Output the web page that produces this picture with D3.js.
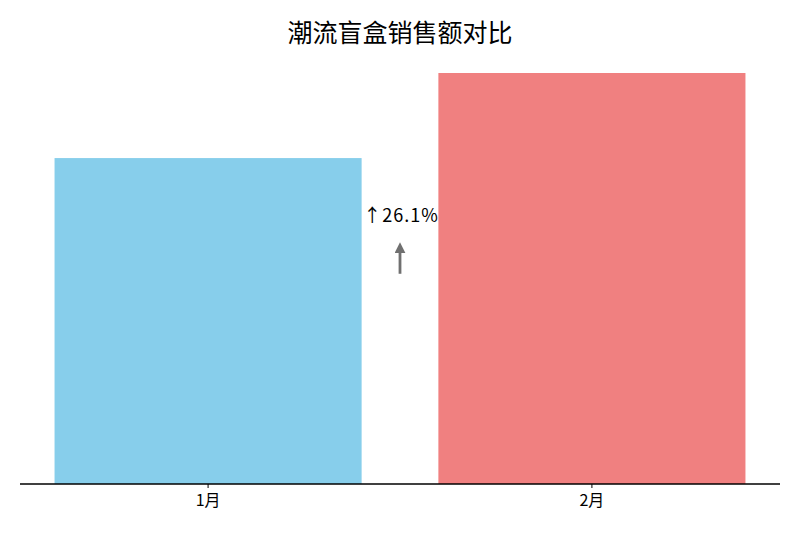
<!DOCTYPE html>
<html>
<head>
<meta charset="utf-8">
<script src="https://cdn.jsdelivr.net/npm/d3@7"></script>
<style>
  body { margin: 0; background: #fff; }
  text { font-family: "Noto Sans CJK SC", "DejaVu Sans", sans-serif; }
</style>
</head>
<body>
<svg id="chart" width="800" height="534"></svg>
<script>
const TITLE = '潮流盲盒销售额对比';
const months = ['1月', '2月'];
const sales = [100, 126.1];
const colors = ['#87CEEB', '#F08080'];

const WIDTH = 800;
const HEIGHT = 534;
const LEFT = 20;
const RIGHT = 780;
const BASE = 484;

let growth = (sales[1] - sales[0]) / sales[0] * 100;

let svg = d3.select('#chart');

let x = d3.scaleBand()
  .domain(months)
  .range([LEFT, RIGHT])
  .paddingInner(0.2)
  .paddingOuter(0.09);

let yMax = d3.max(sales) * 1.05;
let y = d3.scaleLinear()
  .domain([0, yMax])
  .range([BASE, BASE - 411 * 1.05]);

svg.append('g').selectAll('rect')
  .data(sales)
  .enter()
  .append('rect')
  .attr('x', (d, i) => x(months[i]))
  .attr('y', d => y(d))
  .attr('width', x.bandwidth())
  .attr('height', d => BASE - y(d))
  .attr('fill', (d, i) => colors[i]);

// bottom axis only
let axis = svg.append('g')
  .attr('transform', 'translate(0,' + BASE + ')')
  .call(d3.axisBottom(x).tickSize(4).tickPadding(7));
axis.select('.domain').attr('d', 'M' + LEFT + ',0H' + RIGHT).attr('stroke', '#000').attr('stroke-width', 1.3);
axis.selectAll('.tick line').attr('stroke', '#000');
axis.selectAll('.tick text')
  .attr('font-size', 16)
  .attr('fill', '#000');

// title
svg.append('text')
  .attr('x', WIDTH / 2)
  .attr('y', 42)
  .attr('text-anchor', 'middle')
  .attr('font-size', 25)
  .attr('fill', '#000')
  .text(TITLE);

// growth annotation between the bars
let midX = (x(months[0]) + x.bandwidth() / 2 + x(months[1]) + x.bandwidth() / 2) / 2;

svg.append('defs').append('marker')
  .attr('id', 'head')
  .attr('viewBox', '0 0 10 10')
  .attr('refX', 2)
  .attr('refY', 5)
  .attr('markerUnits', 'userSpaceOnUse')
  .attr('markerWidth', 11)
  .attr('markerHeight', 11)
  .attr('orient', 'auto')
  .append('path')
  .attr('d', 'M0,0L10,5L0,10Z')
  .attr('fill', '#707070');

svg.append('line')
  .attr('x1', midX)
  .attr('x2', midX)
  .attr('y1', y(sales[0] * 0.645))
  .attr('y2', y(sales[0] * 0.715))
  .attr('stroke', '#707070')
  .attr('stroke-width', 2.8)
  .attr('marker-end', 'url(#head)');

svg.append('text')
  .attr('x', midX + 1)
  .attr('y', y(sales[0] * 0.8) - 1)
  .attr('text-anchor', 'middle')
  .attr('font-size', 18)
  .attr('letter-spacing', 1)
  .attr('fill', '#000')
  .text('↑' + growth.toFixed(1) + '%');
</script>
</body>
</html>
